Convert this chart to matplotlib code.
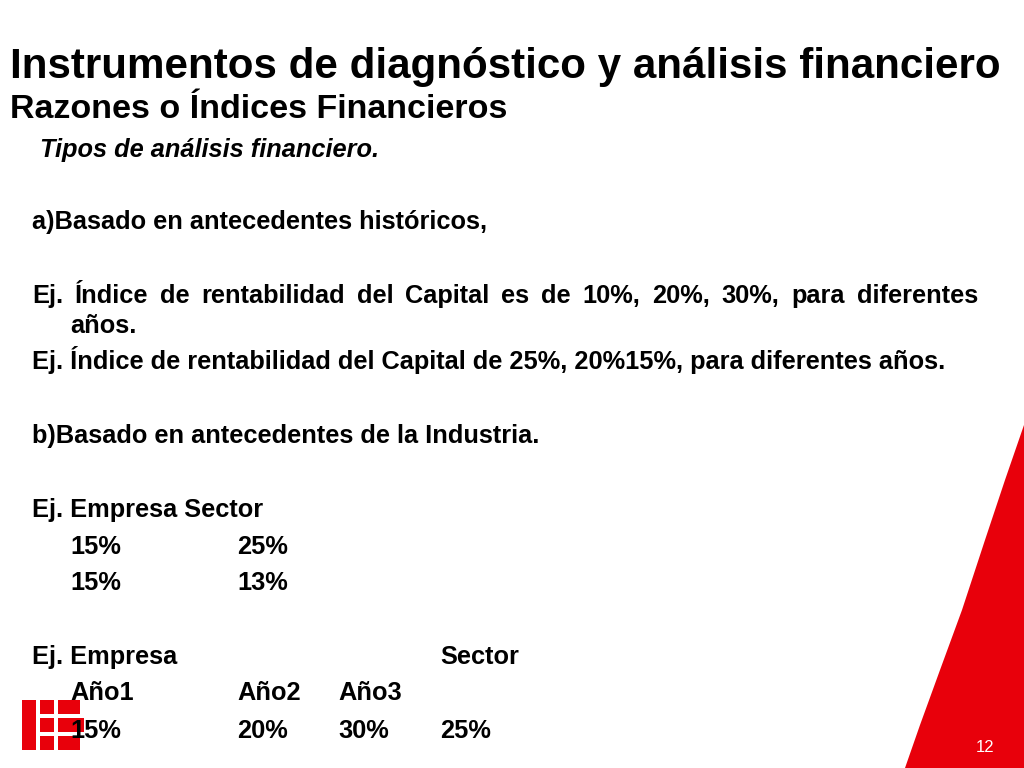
import matplotlib
matplotlib.use("Agg")
import matplotlib.pyplot as plt
from matplotlib.patches import Polygon, Rectangle

title = "Instrumentos de diagnóstico y análisis financiero"
subtitle = "Razones o Índices Financieros"
intro = "Tipos de análisis financiero."
lines_a = ["a)Basado en antecedentes históricos,"]
just_line = "Ej. Índice de rentabilidad del Capital es de 10%, 20%, 30%, para diferentes"
cont_line = "años."
line_ej2 = "Ej. Índice de rentabilidad del Capital de 25%, 20%15%, para diferentes años."
line_b = "b)Basado en antecedentes de la Industria."
line_ej3 = "Ej. Empresa Sector"
table1 = [["15%", "25%"], ["15%", "13%"]]
ej4 = ["Ej. Empresa", "Sector"]
years = ["Año1", "Año2", "Año3"]
values = ["15%", "20%", "30%", "25%"]
page = "12"

fig = plt.figure(figsize=(10.24, 7.68), dpi=100)
ax = fig.add_axes([0, 0, 1, 1])
ax.set_xlim(0, 1024); ax.set_ylim(768, 0); ax.axis("off")

red = "#e8000b"
ax.add_patch(Polygon([(1024, 425), (1005, 480), (985, 540), (962, 610), (940, 670), (920, 725), (905, 768), (1024, 768)],
                     closed=True, color=red, lw=0))
for (x, y, w, h) in [(22, 700, 14, 50), (40, 700, 14, 14), (40, 718, 14, 14), (40, 736, 14, 14),
                     (58, 700, 22, 14), (58, 718, 26, 14), (58, 736, 22, 14)]:
    ax.add_patch(Rectangle((x, y), w, h, color=red, lw=0))

F = "Liberation Sans"
B = 18.3
kw = dict(fontfamily=F, fontweight="bold", va="baseline", color="black")
ax.text(10, 78, title, fontsize=30.3, **kw)
ax.text(10, 118, subtitle, fontsize=24.5, **kw)
ax.text(40, 157, intro, fontsize=B, style="italic", **kw)
ax.text(32, 229, lines_a[0], fontsize=B, **kw)

words = just_line.split(" ")
fig.canvas.draw()
r = fig.canvas.get_renderer()
arts = [ax.text(0, 303, w, fontsize=B, **kw) for w in words]
widths = [a.get_window_extent(r).width for a in arts]
x0, x1 = 32, 978
gap = (x1 - x0 - sum(widths)) / (len(words) - 1)
x = x0
for a, w in zip(arts, widths):
    a.set_x(x); x += w + gap

ax.text(70, 333, cont_line, fontsize=B, **kw)
ax.text(32, 369, line_ej2, fontsize=B, **kw)
ax.text(32, 443, line_b, fontsize=B, **kw)
ax.text(32, 517, line_ej3, fontsize=B, **kw)
for row, y in zip(table1, [554, 590]):
    ax.text(70, y, row[0], fontsize=B, **kw)
    ax.text(237, y, row[1], fontsize=B, **kw)
ax.text(32, 664, ej4[0], fontsize=B, **kw)
ax.text(440, 664, ej4[1], fontsize=B, **kw)
for t, xx in zip(years, [70, 237, 338]):
    ax.text(xx, 700, t, fontsize=B, **kw)
for t, xx in zip(values, [70, 237, 338, 440]):
    ax.text(xx, 738, t, fontsize=B, **kw)
ax.text(985, 752, page, fontsize=12, fontfamily=F, color="white", ha="center", va="baseline")

fig.savefig("out.png", dpi=100)
